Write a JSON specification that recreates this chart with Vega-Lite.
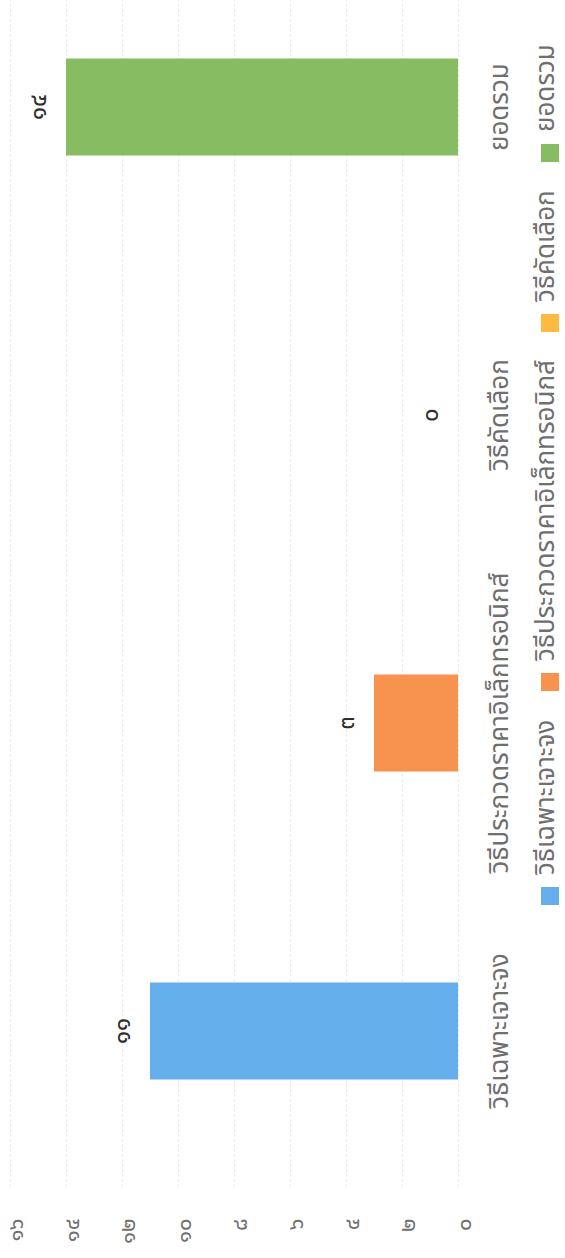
{
  "$schema": "https://vega.github.io/schema/vega-lite/v6.json",
  "width": 448,
  "height": 1186,
  "autosize": {"type": "none"},
  "padding": {"left": 10, "top": 0, "right": 107, "bottom": 72},
  "background": "white",
  "config": {"view": {"stroke": null}, "font": "Noto Sans Thai, Loma, Garuda, sans-serif"},
  "data": {"values": [
    {"method": "วิธีเฉพาะเจาะจง", "count": 11, "label": "๑๑"},
    {"method": "วิธีประกวดราคาอิเล็กทรอนิกส์", "count": 3, "label": "๓"},
    {"method": "วิธีคัดเลือก", "count": 0, "label": "๐"},
    {"method": "ยอดรวม", "count": 14, "label": "๑๔"}
  ]},
  "encoding": {
    "y": {
      "field": "method", "type": "nominal",
      "sort": ["ยอดรวม", "วิธีคัดเลือก", "วิธีประกวดราคาอิเล็กทรอนิกส์", "วิธีเฉพาะเจาะจง"],
      "scale": {"paddingInner": 0.685, "paddingOuter": 0.268, "align": 0.355},
      "axis": {"orient": "right", "title": null, "ticks": false, "domain": false, "labelAngle": 270, "labelAlign": "center", "labelBaseline": "top", "labelPadding": 28, "labelFontSize": 26, "labelColor": "#6f6f6f", "labelLimit": 0}
    },
    "x": {
      "field": "count", "type": "quantitative",
      "scale": {"domain": [0, 16], "reverse": true},
      "axis": {"title": null, "values": [0, 2, 4, 6, 8, 10, 12, 14, 16], "labelExpr": "['๐','๒','๔','๖','๘','๑๐','๑๒','๑๔','๑๖'][datum.value/2]", "labelAngle": 270, "labelAlign": "right", "labelBaseline": "middle", "labelPadding": 32, "labelOffset": 5, "ticks": false, "domain": false, "grid": true, "gridColor": "#e2e2e2", "gridDash": [2, 3], "labelFontSize": 22, "labelColor": "#707070"}
    }
  },
  "layer": [
    {
      "mark": {"type": "bar"},
      "encoding": {
        "color": {
          "field": "method", "type": "nominal",
          "scale": {"domain": ["ยอดรวม", "วิธีคัดเลือก", "วิธีประกวดราคาอิเล็กทรอนิกส์", "วิธีเฉพาะเจาะจง"], "range": ["#88BC62", "#FDB940", "#F7924F", "#64AEEB"]},
          "legend": {
            "orient": "none", "legendX": 527, "legendY": 140, "title": null, "padding": 0,
            "symbolType": "square", "symbolSize": 324, "symbolStrokeWidth": 0,
            "labelFontSize": 26, "labelColor": "#6f6f6f", "rowPadding": 28, "labelLimit": 0,
            "encode": {"labels": {"update": {"angle": {"value": 270}, "x": {"value": 9}, "y": {"value": -8}, "align": {"value": "left"}, "baseline": {"value": "middle"}}}}
          }
        }
      }
    },
    {
      "mark": {"type": "text", "angle": 270, "align": "center", "baseline": "bottom", "dy": -15, "fontSize": 24, "color": "#2e2e2e"},
      "encoding": {"text": {"field": "label"}}
    }
  ]
}
